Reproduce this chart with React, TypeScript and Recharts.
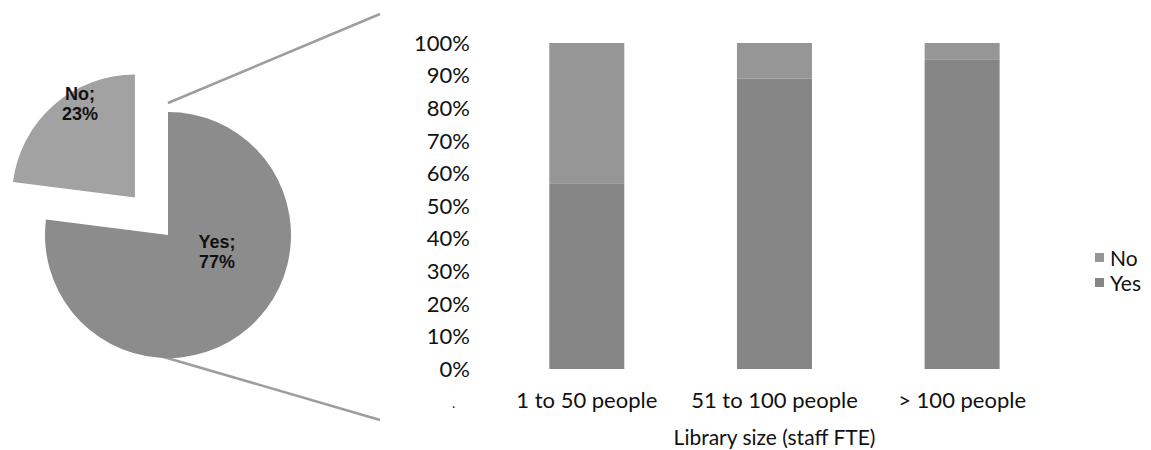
import React from "react";
import { Bar, BarChart, Cell, Legend, Pie, PieChart, XAxis, YAxis } from "recharts";

// pie: share of libraries
const pieNames = ["No", "Yes"];
const pieValues = [23, 77];

// stacked bars by library size
const sizeCategories = ["1 to 50 people", "51 to 100 people", "> 100 people"];
const yesShare = [57, 89, 95];
const noShare = [43, 11, 5];
const percentTicks = [0, 10, 20, 30, 40, 50, 60, 70, 80, 90, 100];

const NO_PIE = "#a2a2a2";
const YES_PIE = "#8c8c8c";
const NO_BAR = "#969696";
const YES_BAR = "#868686";
const LINE = "#9d9d9d";

const pieData = pieNames.map((name, i) => ({ name, value: pieValues[i] }));
const barData = sizeCategories.map((size, i) => ({ size, Yes: yesShare[i], No: noShare[i] }));

const PIE_CX = 163;
const PIE_CY = 230;
const PIE_R = 123;
const EXPLODE = 50;

const noMid = (90 + (360 * pieValues[0]) / (pieValues[0] + pieValues[1]) / 2) * (Math.PI / 180);
const noCx = PIE_CX + EXPLODE * Math.cos(noMid);
const noCy = PIE_CY - EXPLODE * Math.sin(noMid);

const labelShift: Record<string, [number, number]> = { No: [-55, -94], Yes: [49, 17] };

function pieLabel(only: string) {
  return (props: any) => {
    const { name, value, cx, cy } = props;
    if (name !== only) return null;
    const [dx, dy] = labelShift[name];
    return (
      <text
        x={cx + dx}
        y={cy + dy}
        textAnchor="middle"
        fill="#111"
        fontFamily="'Liberation Sans', Arial, sans-serif"
        fontWeight="bold"
        fontSize={18}
      >
        <tspan x={cx + dx} dy="-0.2em">{`${name};`}</tspan>
        <tspan x={cx + dx} dy="1.1em">{`${value}%`}</tspan>
      </text>
    );
  };
}

function LegendBox(props: any) {
  const items = [...(props.payload || [])].sort((a: any, b: any) => (a.value > b.value ? 1 : -1));
  return (
    <div style={{ fontFamily: "Lato, sans-serif", fontSize: 21, color: "#111" }}>
      {items.map((it: any) => (
        <div key={it.value} style={{ display: "flex", alignItems: "center", height: 25 }}>
          <span style={{ width: 9, height: 9, background: it.color, marginRight: 6, display: "inline-block" }} />
          <span>{it.value}</span>
        </div>
      ))}
    </div>
  );
}

export default function App() {
  const tickStyle = { fill: "#111", fontSize: 22, fontFamily: "Lato, sans-serif" };
  return (
    <div style={{ position: "absolute", left: 0, top: 0, width: 1151, height: 450, background: "#fff" }}>
      <div style={{ position: "absolute", left: 0, top: 0 }}>
        <BarChart
          width={1151}
          height={450}
          data={barData}
          margin={{ top: 43, right: 95, bottom: 3, left: 433 }}
          barCategoryGap="30%"
        >
          <XAxis
            dataKey="size"
            axisLine={false}
            tickLine={false}
            tick={tickStyle}
            tickMargin={17}
            height={78}
            label={{
              value: "Library size (staff FTE)",
              position: "insideBottom",
              offset: 2,
              style: { fill: "#111", fontSize: 21, fontFamily: "Lato, sans-serif" },
            }}
          />
          <YAxis
            domain={[0, 100]}
            ticks={percentTicks}
            tickFormatter={(v: number) => `${v}%`}
            axisLine={false}
            tickLine={false}
            tick={tickStyle}
            tickMargin={17}
            width={60}
          />
          <Legend
            layout="vertical"
            align="center"
            verticalAlign="middle"
            content={<LegendBox />}
            wrapperStyle={{ left: 1095, top: 245, width: 60 }}
          />
          <Bar dataKey="Yes" stackId="s" fill={YES_BAR} isAnimationActive={false} />
          <Bar dataKey="No" stackId="s" fill={NO_BAR} isAnimationActive={false} />
        </BarChart>
      </div>

      <svg width={1151} height={450} style={{ position: "absolute", left: 0, top: 0, pointerEvents: "none" }}>
        <line x1={168} y1={103} x2={380} y2={14} stroke={LINE} strokeWidth={2.5} />
        <line x1={143} y1={351} x2={380} y2={420} stroke={LINE} strokeWidth={2.5} />
        <text x={452} y={408} fontSize={14} fill="#333" fontFamily="Lato, sans-serif">.</text>
      </svg>

      <div style={{ position: "absolute", left: 0, top: 0 }}>
        <PieChart width={400} height={450}>
          <Pie
            data={pieData}
            dataKey="value"
            nameKey="name"
            cx={PIE_CX}
            cy={PIE_CY}
            outerRadius={PIE_R}
            startAngle={90}
            endAngle={450}
            stroke="none"
            labelLine={false}
            label={pieLabel("Yes")}
            isAnimationActive={false}
          >
            {pieData.map((d) => (
              <Cell key={d.name} fill={d.name === "Yes" ? YES_PIE : "transparent"} />
            ))}
          </Pie>
          <Pie
            data={pieData}
            dataKey="value"
            nameKey="name"
            cx={noCx}
            cy={noCy}
            outerRadius={PIE_R}
            startAngle={90}
            endAngle={450}
            stroke="none"
            labelLine={false}
            label={pieLabel("No")}
            isAnimationActive={false}
          >
            {pieData.map((d) => (
              <Cell key={d.name} fill={d.name === "No" ? NO_PIE : "transparent"} />
            ))}
          </Pie>
        </PieChart>
      </div>
    </div>
  );
}
